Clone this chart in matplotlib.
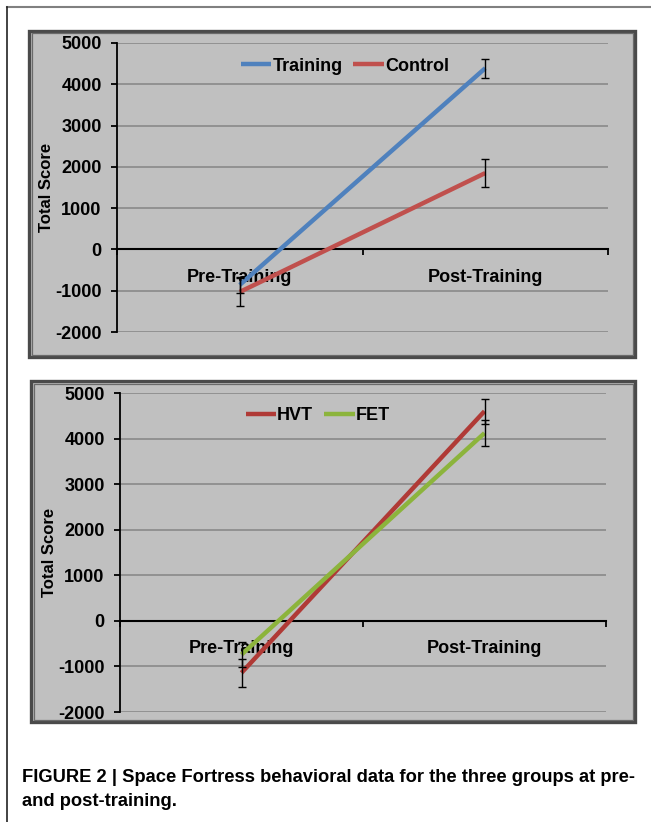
import matplotlib
matplotlib.use("Agg")
import matplotlib.pyplot as plt
from matplotlib.patches import Rectangle
from matplotlib.lines import Line2D

# ---- data ----
categories = ["Pre-Training", "Post-Training"]
yticks = [-2000, -1000, 0, 1000, 2000, 3000, 4000, 5000]

training_mean = [-860, 4390]
training_err = [200, 230]
control_mean = [-1030, 1850]
control_err = [330, 340]

hvt_mean = [-1140, 4600]
hvt_err = [310, 270]
fet_mean = [-740, 4120]
fet_err = [280, 280]

caption_line1 = "FIGURE 2 | Space Fortress behavioral data for the three groups at pre-"
caption_line2 = "and post-training."

# ---- styling ----
W, H = 651, 822
fig = plt.figure(figsize=(W / 100, H / 100), dpi=100)
fig.patch.set_facecolor("white")
FONT = ["Liberation Sans", "DejaVu Sans"]
plt.rcParams["font.family"] = FONT

BG = "#c0c0c0"
GRID = "#8e8e8e"

def fx(px):
    return px / W

def fy(py):
    return 1 - py / H

# outer page border (top and left)
fig.add_artist(Line2D([fx(7), 1.0], [fy(7), fy(7)], color="#808080", lw=1.5,
                      transform=fig.transFigure))
fig.add_artist(Line2D([fx(7), fx(7)], [fy(7), 0.0], color="#222222", lw=1.2,
                      transform=fig.transFigure))

def panel_box(x0, y0, x1, y1):
    r = Rectangle((fx(x0), fy(y1)), fx(x1 - x0), (y1 - y0) / H,
                  transform=fig.transFigure, facecolor=BG, edgecolor="#4a4a4a",
                  lw=2.4, zorder=0)
    fig.add_artist(r)
    r2 = Rectangle((fx(x0 + 2.5), fy(y1 - 2.5)), fx(x1 - x0 - 5), (y1 - y0 - 5) / H,
                   transform=fig.transFigure, facecolor="none", edgecolor="#6a6a6a",
                   lw=0.9, zorder=0)
    fig.add_artist(r2)

panel_box(29, 31, 635, 357)
panel_box(31, 381, 635, 722)

def make_axes(left, top, right, bottom):
    ax = fig.add_axes([fx(left), fy(bottom), fx(right - left), (bottom - top) / H])
    ax.set_facecolor("none")
    return ax

def style(ax, series, legend_xy, label_x):
    x = [0.5, 1.5]
    for name, mean, err, color in series:
        ax.plot(x, mean, color=color, lw=3.2, label=name, zorder=3,
                solid_capstyle="butt")
        ax.errorbar(x, mean, yerr=err, fmt="none", ecolor="black",
                    elinewidth=1.0, capsize=3, capthick=1.0, zorder=4)
    ax.set_xlim(0, 2)
    ax.set_ylim(-2000, 5000)
    ax.set_yticks(yticks)
    ax.set_yticklabels([str(v) for v in yticks], fontsize=13, fontweight="bold")
    for v in yticks:
        if v != 0:
            ax.axhline(v, color=GRID, lw=1.3, zorder=1)
    for s in ["top", "right"]:
        ax.spines[s].set_visible(False)
    ax.spines["left"].set_linewidth(1.3)
    ax.spines["bottom"].set_position(("data", 0))
    ax.spines["bottom"].set_linewidth(1.5)
    ax.spines["bottom"].set_zorder(2)
    ax.set_xticks([0, 1, 2])
    ax.set_xticklabels([])
    ax.tick_params(axis="x", direction="out", length=4, width=1.3)
    ax.tick_params(axis="y", direction="out", length=4, width=1.3, pad=7)
    for xi, c in zip(x, categories):
        ax.annotate(c, xy=(xi, 0), xytext=(0, -20), textcoords="offset points",
                    ha="center", va="center", fontsize=13, fontweight="bold",
                    zorder=2)
    ax.set_ylabel("Total Score", fontsize=12, fontweight="bold")
    ax.yaxis.set_label_coords(label_x, 0.5)
    ax.legend(loc="center", bbox_to_anchor=legend_xy, ncol=2, frameon=False,
              handlelength=1.7, handletextpad=0.05, columnspacing=0.6,
              prop={"weight": "bold", "size": 13})
    return ax

ax1 = make_axes(117, 43, 608, 332)
style(ax1, [("Training", training_mean, training_err, "#4f81bd"),
            ("Control", control_mean, control_err, "#c0504d")],
      (0.464, 0.92), -0.128)

ax2 = make_axes(120, 393, 606, 712)
style(ax2, [("HVT", hvt_mean, hvt_err, "#b03a36"),
            ("FET", fet_mean, fet_err, "#8cb43c")],
      (0.407, 0.928), -0.130)

# caption
cap_font = ["Liberation Sans Narrow", "Liberation Sans", "DejaVu Sans"]
t1 = fig.text(fx(22), fy(777), caption_line1, fontsize=14, fontweight="bold",
              family=cap_font, ha="left", va="center")
t2 = fig.text(fx(22), fy(801), caption_line2, fontsize=14, fontweight="bold",
              family=cap_font, ha="left", va="center")
fig.canvas.draw()
r = fig.canvas.get_renderer()
w = t1.get_window_extent(r).width
scale = 615 / w
t1.set_fontsize(14 * scale)
t2.set_fontsize(14 * scale)

fig.savefig("out.png", dpi=100, facecolor="white")
